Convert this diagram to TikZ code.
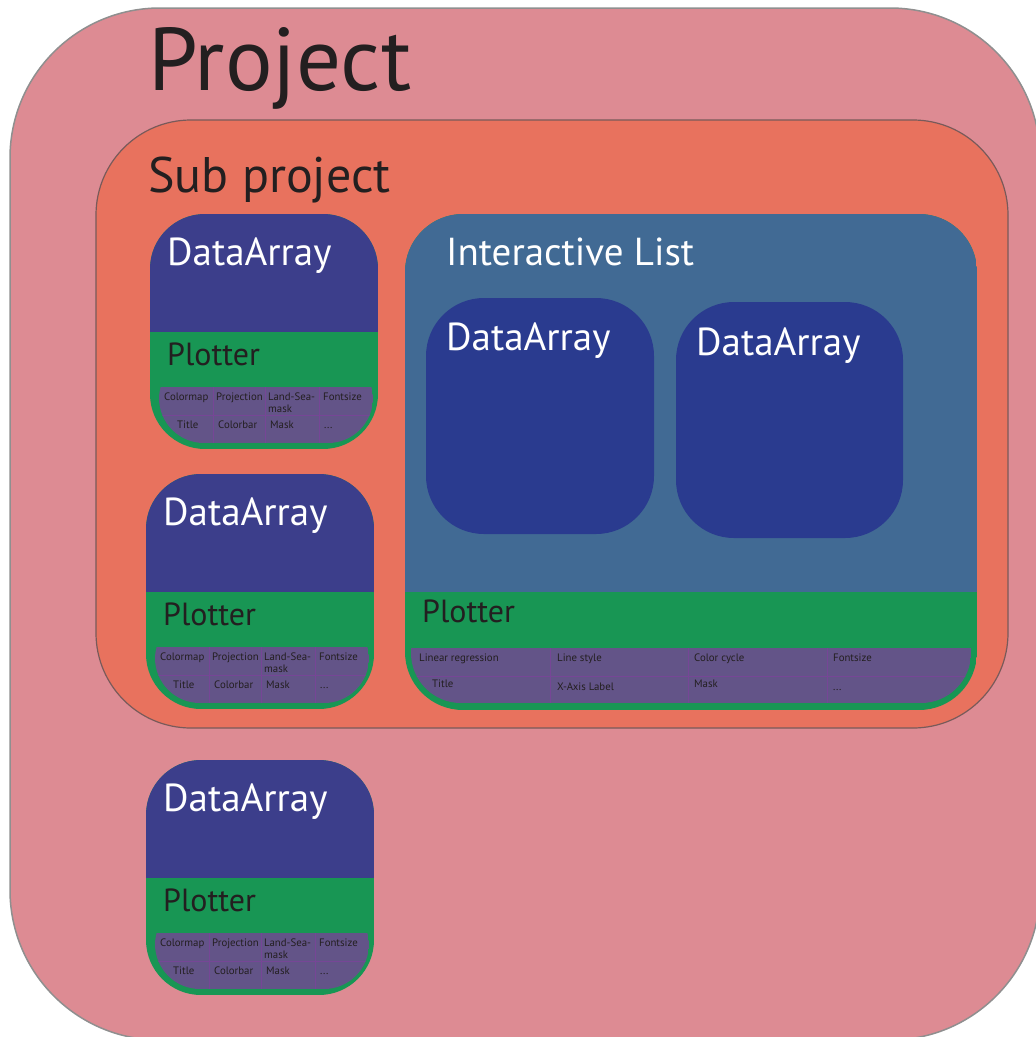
\documentclass[tikz,border=0pt]{standalone}
\usepackage{fontspec}
\setmainfont{PT Sans}
\definecolor{projectpink}{RGB}{221,139,147}
\definecolor{projectline}{RGB}{143,143,143}
\definecolor{subsalmon}{RGB}{232,114,94}
\definecolor{subline}{RGB}{120,90,90}
\definecolor{listblue}{RGB}{65,106,148}
\definecolor{dablue}{RGB}{60,62,139}
\definecolor{innerblue}{RGB}{42,59,143}
\definecolor{plotgreen}{RGB}{24,150,84}
\definecolor{tablepurple}{RGB}{99,84,136}
\definecolor{cellline}{RGB}{118,70,150}
\definecolor{inktext}{RGB}{35,31,32}
\tikzset{
  lbl/.style={anchor=base west, inner sep=0pt},
  bigtext/.style={lbl, text=inktext, font=\fontsize{89}{100}\selectfont},
  subtext/.style={lbl, text=inktext, font=\fontsize{50}{60}\selectfont},
  datext/.style={lbl, text=white, font=\fontsize{39}{46}\selectfont},
  plottext/.style={lbl, text=inktext, font=\fontsize{32}{40}\selectfont},
  celltext/.style={lbl, text=inktext, font=\fontsize{10.8}{12}\selectfont},
  cellrule/.style={draw=cellline, line width=0.5pt}
}
\begin{document}
\begin{tikzpicture}[x=1pt,y=-1pt]
\useasboundingbox (0,0) rectangle (1036,1037);
\filldraw[fill=projectpink, draw=projectline, line width=1.5pt, rounded corners=150]
  (10,8) rectangle (1040,1040);
\filldraw[fill=subsalmon, draw=subline, line width=1.2pt, rounded corners=95]
  (96,120) rectangle (1008,728);
% interactive list
\begin{scope}
\clip[rounded corners=58] (405,214) rectangle (977,710);
\fill[plotgreen] (405,214) rectangle (977,710);
\fill[listblue] (405,214) rectangle (977,592);
\end{scope}
\begin{scope}
\clip (405,648) rectangle (977,720);
\clip[rounded corners=50] (411,600) rectangle (971,703);
\fill[tablepurple] (411,600) rectangle (971,703);
\draw[cellrule] (411,676) -- (971,676);
\foreach \cx in {550,688,827}
  \draw[cellrule] (\cx,648) -- (\cx,703);
\end{scope}
\fill[innerblue, rounded corners=58] (426,298) rectangle (654,534);
\fill[innerblue, rounded corners=58] (676,302) rectangle (903,538);
\path node[bigtext] (project) at (148,90) {Project}
node[subtext] (subproject) at (148,192) {Sub project}
node[datext] (list) at (446,265) {Interactive List}
node[datext] (inner1) at (446,350) {DataArray}
node[datext] (inner2) at (696,355) {DataArray}
node[plottext] (listplotter) at (422,622) {Plotter}
node[celltext] (linreg) at (419,661) {Linear regression}
node[celltext] (linestyle) at (557,661) {Line style}
node[celltext] (colorcycle) at (694,661) {Color cycle}
node[celltext] (listfont) at (833,661) {Fontsize}
node[celltext] (listtitle) at (432,687) {Title}
node[celltext] (xlabel) at (557,690) {X-Axis Label}
node[celltext] (listmask) at (694,687) {Mask}
node[celltext] (listdots) at (833,690) {...}
;
% dataarray + plotter boxes
\foreach \i/\bx/\by in {1/150/214, 2/146/474, 3/146/760} {
  \begin{scope}[shift={(\bx,\by)}]
  \begin{scope}
  \clip[rounded corners=55] (0,0) rectangle (228,235);
  \fill[plotgreen] (0,0) rectangle (228,235);
  \fill[dablue] (0,0) rectangle (228,118);
  \end{scope}
  \begin{scope}
  \clip (0,173) rectangle (228,240);
  \clip[rounded corners=45] (9,140) rectangle (223,229);
  \fill[tablepurple] (9,140) rectangle (223,229);
  \draw[cellrule] (9,201) -- (223,201);
  \foreach \cx in {63,115,169}
    \draw[cellrule] (\cx,173) -- (\cx,229);
  \end{scope}
  \path node[datext] (da\i) at (17,51) {DataArray}
  node[plottext] (pl\i) at (17,151) {Plotter}
  node[celltext] (cmap\i) at (14,186) {Colormap}
  node[celltext] (proj\i) at (66,186) {Projection}
  node[celltext] (lsm\i) at (118,186) {\begin{tabular}[t]{@{}l@{}}Land-Sea-\\mask\end{tabular}}
  node[celltext] (fsize\i) at (173,186) {Fontsize}
  node[celltext] (title\i) at (27,214) {Title}
  node[celltext] (cbar\i) at (68,214) {Colorbar}
  node[celltext] (mask\i) at (120,214) {Mask}
  node[celltext] (dots\i) at (174,214) {...}
  ;
  \end{scope}
}
\end{tikzpicture}
\end{document}
